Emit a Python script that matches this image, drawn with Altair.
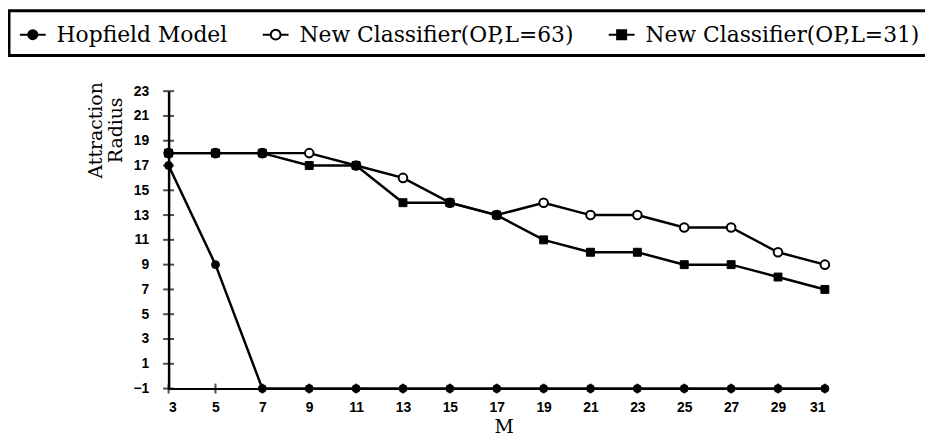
import altair as alt
import pandas as pd

M = [3, 5, 7, 9, 11, 13, 15, 17, 19, 21, 23, 25, 27, 29, 31]
hopfield = [17, 9, -1, -1, -1, -1, -1, -1, -1, -1, -1, -1, -1, -1, -1]
l63 = [18, 18, 18, 18, 17, 16, 14, 13, 14, 13, 13, 12, 12, 10, 9]
l31 = [18, 18, 18, 17, 17, 14, 14, 13, 11, 10, 10, 9, 9, 8, 7]
series_names = ["Hopfield Model", "New Classifier(OP,L=63)", "New Classifier(OP,L=31)"]
y_ticks = [-1, 1, 3, 5, 7, 9, 11, 13, 15, 17, 19, 21, 23]

rows = []
for name, vals in zip(series_names, [hopfield, l63, l31]):
    for m, v in zip(M, vals):
        rows.append({"M": m, "value": v, "series": name})
df = pd.DataFrame(rows)
yt = pd.DataFrame({"y": y_ticks, "x": [M[0]] * len(y_ticks)})
xt = pd.DataFrame({"x": M, "y": [y_ticks[0]] * len(M)})

xs = alt.Scale(domain=[3, 31], nice=False, zero=False)
ys = alt.Scale(domain=[-1, 23], nice=False, zero=False)

xaxis = alt.Axis(values=M, format="d", tickSize=0, labelPadding=12, domainColor="black",
                 domainWidth=2, labelFont="Liberation Sans", labelFontWeight="bold",
                 labelFontSize=14, labelColor="black", labelOverlap=False,
                 title="M", titleFont="DejaVu Serif",
                 titleFontSize=19, titleFontWeight="normal", titleColor="black",
                 titleX=338, titleY=44, titleBaseline="alphabetic", grid=False)
yaxis = alt.Axis(values=y_ticks, format="d", tickSize=0, labelPadding=20, domainColor="black",
                 domainWidth=2.5, labelFont="Liberation Sans", labelFontWeight="bold",
                 labelFontSize=14, labelColor="black", labelOverlap=False,
                 title=["Attraction", "Radius"],
                 titleFont="DejaVu Serif", titleFontSize=19, titleFontWeight="normal",
                 titleColor="black", titleAngle=-90, titleX=-74, titleY=39,
                 titleAlign="center", titleBaseline="middle", titleLineHeight=21, grid=False)

X0 = lambda f: alt.X(f, scale=xs, axis=xaxis, title="M")
Y0 = lambda f: alt.Y(f, scale=ys, axis=yaxis, title=["Attraction", "Radius"])

base = alt.Chart(df)

lines = base.mark_line(color="black", strokeWidth=2.5).encode(
    x=X0("M:Q"), y=Y0("value:Q"), detail="series:N")

yticks = alt.Chart(yt).mark_tick(orient="horizontal", size=11, thickness=2, color="black").encode(
    x=X0("x:Q"), y=Y0("y:Q"))
xticks = alt.Chart(xt).mark_tick(orient="vertical", size=10, thickness=2, color="black").encode(
    x=X0("x:Q"), y=Y0("y:Q"))

def pts(name, shape, fill, size, sw):
    return base.transform_filter(alt.datum.series == name).mark_point(
        shape=shape, filled=True, fill=fill, stroke="black", strokeWidth=sw, size=size, opacity=1
    ).encode(x=X0("M:Q"), y=Y0("value:Q"))

p_h = pts(series_names[0], "circle", "black", 64, 1)
p_63 = pts(series_names[1], "circle", "white", 75, 2)
p_31 = pts(series_names[2], "square", "black", 64, 1)

sym_paths = [
    "M-1,0H-0.35M0.35,0H1M-0.35,0A0.35,0.35,0,1,0,0.35,0A0.35,0.35,0,1,0,-0.35,0Z",
    "M-1,0H-0.38M0.38,0H1M-0.38,0A0.38,0.38,0,1,0,0.38,0A0.38,0.38,0,1,0,-0.38,0Z",
    "M-1,0H-0.35M0.35,0H1M-0.35,-0.35H0.35V0.35H-0.35Z",
]
legend = alt.Legend(orient="none", legendX=-161, legendY=-81, direction="horizontal",
                    title=None, strokeColor="black", padding=10,
                    labelFont="DejaVu Serif", labelFontSize=22, labelColor="black",
                    labelOffset=10, columnPadding=31, symbolSize=676,
                    symbolStrokeColor="black", symbolStrokeWidth=2, symbolOpacity=1,
                    labelLimit=400)
leg = base.transform_filter("false").mark_point(filled=True, opacity=1, strokeWidth=2).encode(
    x=X0("M:Q"), y=Y0("value:Q"),
    shape=alt.Shape("series:N", scale=alt.Scale(domain=series_names, range=sym_paths), legend=legend),
    fill=alt.Fill("series:N", scale=alt.Scale(domain=series_names, range=["black", "white", "black"]), legend=legend),
    stroke=alt.Stroke("series:N", scale=alt.Scale(domain=series_names, range=["black", "black", "black"]), legend=legend),
)

chart = alt.layer(lines, yticks, xticks, p_h, p_63, p_31, leg).properties(
    width=662, height=300, background="white",
    padding={"left": 162, "top": 82, "right": 101, "bottom": 50},
    autosize=alt.AutoSizeParams(type="none"),
).configure_view(stroke=None).configure_legend(strokeWidth=3).configure_axis(labelOverlap=False)

chart.save("out.html", embed_options={"renderer": "svg", "actions": False})
